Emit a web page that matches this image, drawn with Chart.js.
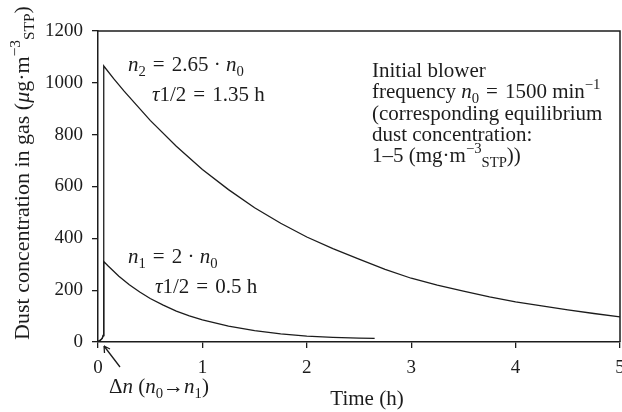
<!DOCTYPE html>
<html>
<head>
<meta charset="utf-8">
<script src="https://cdn.jsdelivr.net/npm/chart.js@4.4.1/dist/chart.umd.min.js"></script>
<style>
  html, body { margin: 0; padding: 0; background: #fff; }
  #wrap { width: 622px; height: 412px; position: relative; }
</style>
</head>
<body>
<div id="wrap"><canvas id="c" width="622" height="412"></canvas></div>
<script>
// ---- data ----
const timeN1 = [0, 0.02, 0.04, 0.05, 0.055, 0.1, 0.2, 0.3, 0.4, 0.5, 0.625, 0.75, 0.875, 1.0, 1.25, 1.5, 1.75, 2.0, 2.25, 2.5, 2.65];
const concN1 = [2, 6, 14, 25, 310, 292, 254, 221, 193, 168, 142, 119, 101, 85, 61, 44, 31, 23, 18, 15, 14];
const timeN2 = [0, 0.02, 0.04, 0.05, 0.055, 0.15, 0.25, 0.5, 0.75, 1.0, 1.25, 1.5, 1.75, 2.0, 2.25, 2.5, 2.75, 3.0, 3.25, 3.5, 3.75, 4.0, 4.25, 4.5, 4.75, 5.0];
const concN2 = [2, 6, 14, 25, 1065, 1016, 968, 855, 755, 666, 588, 518, 458, 405, 360, 320, 280, 246, 219, 196, 174, 155, 139, 124, 110, 97];
const xTicks = [0, 1, 2, 3, 4, 5];
const yTicks = [0, 200, 400, 600, 800, 1000, 1200];

const FONT = '"Liberation Serif", "DejaVu Serif", serif';
const INK = '#1c1c1c';

function pts(xs, ys) { return xs.map((x, i) => ({ x: x, y: ys[i] })); }

// rich text: segments [text, style]; style: r roman, i italic, sub, sup
function segFont(style, size) {
  const s = (style === 'sub' || style === 'sup') ? size * 0.7 : size;
  return (style === 'i' ? 'italic ' : '') + s + 'px ' + FONT;
}
function richWidth(ctx, segs, size) {
  let w = 0;
  for (const [t, st] of segs) { ctx.font = segFont(st, size); w += ctx.measureText(t).width; }
  return w;
}
function drawRich(ctx, segs, x, y, size) {
  ctx.textBaseline = 'alphabetic';
  ctx.textAlign = 'left';
  let cx = x;
  for (const [t, st] of segs) {
    ctx.font = segFont(st, size);
    let dy = 0;
    if (st === 'sub') dy = size * 0.22;
    if (st === 'sup') dy = -size * 0.42;
    ctx.fillText(t, cx, y + dy);
    cx += ctx.measureText(t).width;
  }
}

const EQ = '\u2004=\u2004';

const annot = {
  id: 'annot',
  afterDraw(chart) {
    const ctx = chart.ctx;
    const a = chart.chartArea;
    ctx.save();
    // frame top & right
    ctx.strokeStyle = INK;
    ctx.lineWidth = 1.5;
    ctx.beginPath();
    ctx.moveTo(a.left, a.top); ctx.lineTo(a.right, a.top); ctx.lineTo(a.right, a.bottom);
    ctx.stroke();

    ctx.fillStyle = INK;
    const S = 21;
    drawRich(ctx, [['n','i'],['2','sub'],[EQ + '2.65 · ','r'],['n','i'],['0','sub']], 128, 71, S);
    drawRich(ctx, [['τ','i'],['1/2' + EQ + '1.35 h','r']], 152, 101, S);
    drawRich(ctx, [['n','i'],['1','sub'],[EQ + '2 · ','r'],['n','i'],['0','sub']], 128, 263, S);
    drawRich(ctx, [['τ','i'],['1/2' + EQ + '0.5 h','r']], 155, 293, S);

    const bx = 372;
    drawRich(ctx, [['Initial blower','r']], bx, 77, S);
    drawRich(ctx, [['frequency ','r'],['n','i'],['0','sub'],[EQ + '1500 min','r'],['−1','sup']], bx, 98, S);
    drawRich(ctx, [['(corresponding equilibrium','r']], bx, 120, S);
    drawRich(ctx, [['dust concentration:','r']], bx, 141, S);
    drawRich(ctx, [['1–5 (mg·m','r'],['−3','sup'],['STP','sub'],['))','r']], bx, 162, S);

    // delta n label and arrow
    drawRich(ctx, [['Δ','r'],['n','i'],[' (','r'],['n','i'],['0','sub'],['→','r'],['n','i'],['1','sub'],[')','r']], 109, 393, S);
    ctx.lineWidth = 1.3;
    ctx.beginPath();
    ctx.moveTo(120, 367); ctx.lineTo(104, 346);
    ctx.moveTo(104, 346); ctx.lineTo(104.5, 353);
    ctx.moveTo(104, 346); ctx.lineTo(110, 349);
    ctx.stroke();

    // x title
    const xt = [['Time (h)','r']];
    const xw = richWidth(ctx, xt, S);
    drawRich(ctx, xt, 367 - xw / 2, 405, S);

    // y title (rotated)
    const YS = 22;
    const yt = [['Dust concentration in gas (','r'],['μ','i'],['g·m','r'],['−3','sup'],['STP','sub'],[')','r']];
    const yw = richWidth(ctx, yt, YS);
    ctx.translate(29, 173);
    ctx.rotate(-Math.PI / 2);
    drawRich(ctx, yt, -yw / 2, 0, YS);
    ctx.restore();
  }
};

new Chart(document.getElementById('c'), {
  type: 'line',
  data: {
    datasets: [
      { data: pts(timeN1, concN1), borderColor: INK, borderWidth: 1.3, pointRadius: 0, tension: 0, fill: false },
      { data: pts(timeN2, concN2), borderColor: INK, borderWidth: 1.3, pointRadius: 0, tension: 0, fill: false }
    ]
  },
  options: {
    responsive: false,
    animation: false,
    events: [],
    layout: { padding: { top: 31, right: 2, left: 0, bottom: 0 } },
    plugins: { legend: { display: false }, tooltip: { enabled: false }, title: { display: false } },
    scales: {
      x: {
        type: 'linear', min: 0, max: 5,
        afterBuildTicks: s => { s.ticks = xTicks.map(v => ({ value: v })); },
        afterFit: s => { s.height = 70; s.paddingLeft = 0; s.paddingRight = 0; },
        grid: { display: true, drawOnChartArea: false, drawTicks: true, tickLength: 6, color: INK, lineWidth: 1.3 },
        border: { display: true, color: INK, width: 1.5 },
        ticks: { color: INK, font: { family: FONT, size: 19 }, padding: 9, maxRotation: 0, callback: v => String(v) }
      },
      y: {
        type: 'linear', min: 0, max: 1200,
        afterBuildTicks: s => { s.ticks = yTicks.map(v => ({ value: v })); },
        afterFit: s => { s.width = 98; s.paddingTop = 0; s.paddingBottom = 0; },
        grid: { display: true, drawOnChartArea: false, drawTicks: true, tickLength: 6, color: INK, lineWidth: 1.3 },
        border: { display: true, color: INK, width: 1.5 },
        ticks: { color: INK, font: { family: FONT, size: 19 }, padding: 9, callback: v => String(v) }
      }
    }
  },
  plugins: [annot]
});
</script>
</body>
</html>
